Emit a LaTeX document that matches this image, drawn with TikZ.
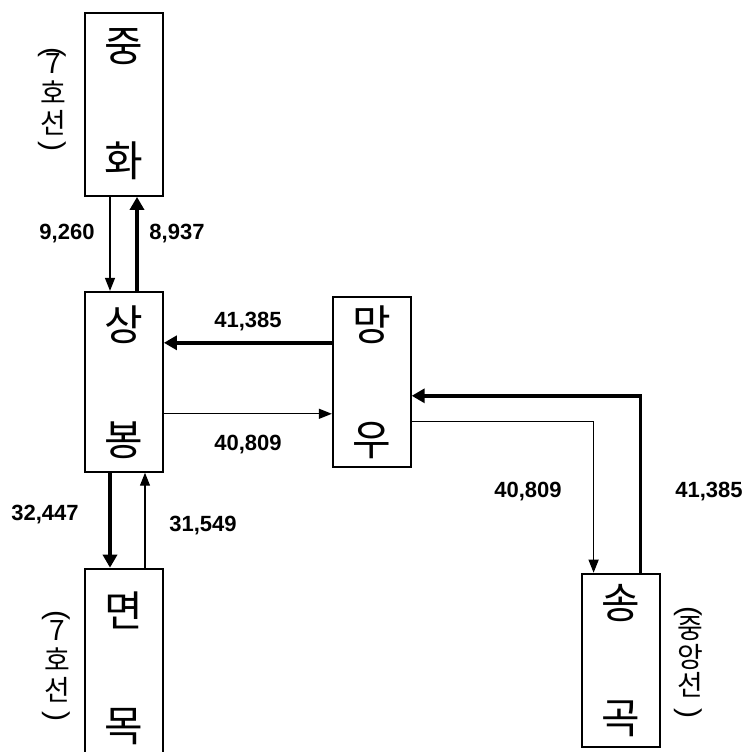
\documentclass[tikz,border=0pt]{standalone}
\usepackage{fontspec}
\setmainfont{Liberation Sans}
\newfontfamily\krfont{Noto Sans CJK KR}
\usetikzlibrary{arrows.meta,positioning}

\begin{document}
\begin{tikzpicture}[x=1pt,y=-1pt,
    station/.style={draw,line width=1.8pt,minimum width=78pt,inner sep=0pt,
                    align=center,font=\krfont\fontsize{42}{115}\selectfont},
    num/.style={font=\bfseries\fontsize{22}{24}\selectfont,inner sep=0pt},
    linename/.style={align=center,inner sep=0pt,
                     font=\krfont\fontsize{28}{30}\selectfont},
    arch/.style={rotate=-90,inner sep=0pt,font=\fontsize{30}{30}\selectfont},
    thinarr/.style={-{Triangle[length=13pt,width=10pt]},line width=1.3pt},
    heavyarr/.style={-{Triangle[length=13pt,width=14pt]},line width=3.4pt},
    node distance=94pt
  ]
    \useasboundingbox (0,0) rectangle (744,752);
    % stations
    \node[station,minimum height=183pt] (junghwa) at (124,104.5) {중\\화};
    \node[station,minimum height=180pt,below=of junghwa] (sangbong) {상\\봉};
    \node[station,minimum height=200pt,below=95pt of sangbong] (myeonmok) {면\\목};
    \node[station,minimum height=170pt,right=168pt of sangbong] (mangu) {망\\우};
    \node[station,minimum height=173pt,below right=105pt and 169pt of mangu] (songgok) {송\\곡};
    % line names
    \node[linename] (line7a) at (53,94) {7\\호\\선};
    \node[arch] (line7a-l) at (52,52) {(};
    \node[arch] (line7a-r) at (52,146) {)};
    \node[linename] (line7b) at (57,661) {7\\호\\선};
    \node[arch] (line7b-l) at (56,615) {(};
    \node[arch] (line7b-r) at (56,716) {)};
    \node[linename,font=\krfont\fontsize{28}{28.5}\selectfont] (jungang) at (690,657) {중\\앙\\선};
    \node[arch] (jungang-l) at (688,611) {(};
    \node[arch] (jungang-r) at (688,713) {)};
    % flows
    \draw[thinarr] ([xshift=-14pt]junghwa.south) -- ([xshift=-14pt]sangbong.north);
    \draw[heavyarr] ([xshift=13pt]sangbong.north) -- ([xshift=13pt]junghwa.south);
    \draw[heavyarr] ([xshift=-14pt]sangbong.south) -- ([xshift=-14pt]myeonmok.north);
    \draw[thinarr] ([xshift=21pt]myeonmok.north) -- ([xshift=21pt]sangbong.south);
    \coordinate (mw1) at ([yshift=39pt]mangu.west);
    \coordinate (mw2) at ([yshift=-32pt]mangu.west);
    \draw[heavyarr] (mw1) -- (mw1 -| sangbong.east);
    \draw[thinarr] (mw2 -| sangbong.east) -- (mw2);
    \draw[heavyarr] ([xshift=20pt]songgok.north) |- ([yshift=-14pt]mangu.east);
    \draw[thinarr] ([yshift=-40pt]mangu.east) -| ([xshift=-27pt]songgok.north);
    % numbers
    \node[num] (n1) at (67,234) {9,260};
    \node[num] (n2) at (177,234) {8,937};
    \node[num] (n3) at (248,322) {41,385};
    \node[num] (n4) at (248,445) {40,809};
    \node[num] (n5) at (528,492) {40,809};
    \node[num] (n6) at (709,492) {41,385};
    \node[num] (n7) at (45,515) {32,447};
    \node[num] (n8) at (203,526) {31,549};
\end{tikzpicture}
\end{document}
